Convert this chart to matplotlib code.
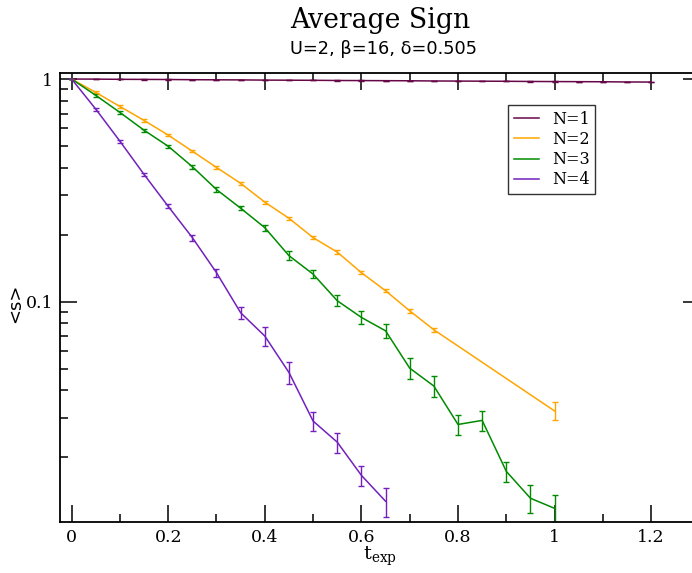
import matplotlib
matplotlib.use('Agg')
import matplotlib.pyplot as plt
from matplotlib.lines import Line2D
from matplotlib.ticker import MultipleLocator, FixedLocator, FuncFormatter

# data
t_n1 = [0.0, 0.05, 0.1, 0.15, 0.2, 0.25, 0.3, 0.35, 0.4, 0.45, 0.5, 0.55, 0.6,
        0.65, 0.7, 0.75, 0.8, 0.85, 0.9, 0.95, 1.0, 1.05, 1.1, 1.15, 1.2]
s_n1 = [1.0, 0.999, 0.997, 0.996, 0.995, 0.993, 0.992, 0.991, 0.989, 0.988, 0.987,
        0.985, 0.984, 0.983, 0.982, 0.980, 0.979, 0.978, 0.977, 0.975, 0.974,
        0.973, 0.972, 0.970, 0.969]
e_n1 = [0.0] + [0.001] * 24

t_n2 = [0.0, 0.05, 0.1, 0.15, 0.2, 0.25, 0.3, 0.35, 0.4, 0.45, 0.5, 0.55, 0.6,
        0.65, 0.7, 0.75, 1.0]
s_n2 = [1.0, 0.871, 0.753, 0.652, 0.560, 0.474, 0.401, 0.340, 0.280, 0.237,
        0.194, 0.167, 0.135, 0.112, 0.091, 0.0748, 0.0323]
e_n2 = [0.0, 0.010, 0.009, 0.008, 0.007, 0.006, 0.005, 0.005, 0.004, 0.004,
        0.003, 0.003, 0.0025, 0.002, 0.002, 0.0017, 0.0030]

t_n3 = [0.0, 0.05, 0.1, 0.15, 0.2, 0.25, 0.3, 0.35, 0.4, 0.45, 0.5, 0.55, 0.6,
        0.65, 0.7, 0.75, 0.8, 0.85, 0.9, 0.95, 1.0]
s_n3 = [1.0, 0.845, 0.708, 0.589, 0.499, 0.404, 0.319, 0.263, 0.215, 0.161,
        0.133, 0.101, 0.0850, 0.0740, 0.0503, 0.0418, 0.0281, 0.0293, 0.0173,
        0.0131, 0.0118]
e_n3 = [0.0, 0.011, 0.010, 0.008, 0.008, 0.008, 0.007, 0.005, 0.007, 0.0072,
        0.0056, 0.0057, 0.0054, 0.0055, 0.0053, 0.0044, 0.0029, 0.0031, 0.0018,
        0.0019, 0.0017]

t_n4 = [0.0, 0.05, 0.1, 0.15, 0.2, 0.25, 0.3, 0.35, 0.4, 0.45, 0.5, 0.55, 0.6, 0.65]
s_n4 = [1.0, 0.733, 0.526, 0.373, 0.268, 0.194, 0.135, 0.0892, 0.0701, 0.0481,
        0.0291, 0.0234, 0.0166, 0.0127]
e_n4 = [0.0, 0.011, 0.008, 0.006, 0.0055, 0.006, 0.0057, 0.0057, 0.0066, 0.0055,
        0.0029, 0.0024, 0.0017, 0.0019]

series = [
    ('N=1', t_n1, s_n1, e_n1, '#670748'),
    ('N=2', t_n2, s_n2, e_n2, '#ffa500'),
    ('N=3', t_n3, s_n3, e_n3, '#008b00'),
    ('N=4', t_n4, s_n4, e_n4, '#7221bc'),
]

plt.rcParams['mathtext.fontset'] = 'dejavuserif'

fig = plt.figure(figsize=(6.92, 5.73), dpi=100)
ax = fig.add_axes([60 / 692, 1 - 521.7 / 573, 640 / 692, 448.4 / 573])

handles = []
for label, t, s, e, c in series:
    ax.errorbar(t, s, yerr=e, color=c, linewidth=1.1, elinewidth=1.0,
                capsize=2.3, capthick=1.0)
    handles.append(Line2D([], [], color=c, linewidth=1.1, label=label))

ax.set_yscale('log')
ax.set_xlim(-0.024, 1.301)
ax.set_ylim(0.01028, 1.061)

ax.xaxis.set_major_locator(MultipleLocator(0.2))
ax.xaxis.set_minor_locator(MultipleLocator(0.1))
ax.xaxis.set_major_formatter(FuncFormatter(lambda v, p: '%g' % round(v, 2)))
ax.yaxis.set_major_locator(FixedLocator([0.01, 0.1, 1.0]))
ax.yaxis.set_minor_locator(FixedLocator(
    [k * 10.0 ** d for d in (-2, -1) for k in range(2, 10)]))
ax.yaxis.set_major_formatter(FuncFormatter(lambda v, p: '%g' % v))

ax.tick_params(which='both', direction='in', top=True, right=True, width=1.1,
               labelsize=12.5, pad=5)
ax.tick_params(which='major', length=12)
ax.tick_params(which='minor', length=6)
ax.tick_params(axis='y', which='minor', right=False)
for lab in ax.get_xticklabels() + ax.get_yticklabels():
    lab.set_family('DejaVu Serif')
for sp in ax.spines.values():
    sp.set_linewidth(1.3)

leg = ax.legend(handles=handles, loc='upper left', bbox_to_anchor=(0.70, 0.929),
                borderaxespad=0, frameon=True, fancybox=False, edgecolor='black',
                prop={'family': 'DejaVu Serif', 'size': 11.5},
                handlelength=1.6, handletextpad=0.8, labelspacing=0.2,
                borderpad=0.35)
leg.get_frame().set_linewidth(1.0)

fig.text(380 / 692, 1 - 20 / 573, 'Average Sign', family='DejaVu Serif',
         fontsize=19.2, ha='center', va='center')
fig.text(384 / 692, 1 - 49 / 573, 'U=2, \u03b2=16, \u03b4=0.505',
         family='DejaVu Sans', fontsize=12.8, ha='center', va='center')
fig.text(380 / 692, 1 - 556 / 573, r'$\mathrm{t_{exp}}$', fontsize=14,
         ha='center', va='center')
fig.text(15 / 692, 1 - 303 / 573, '<s>', family='DejaVu Sans', fontsize=13,
         rotation=90, ha='center', va='center')

fig.savefig('out.png', dpi=100)
